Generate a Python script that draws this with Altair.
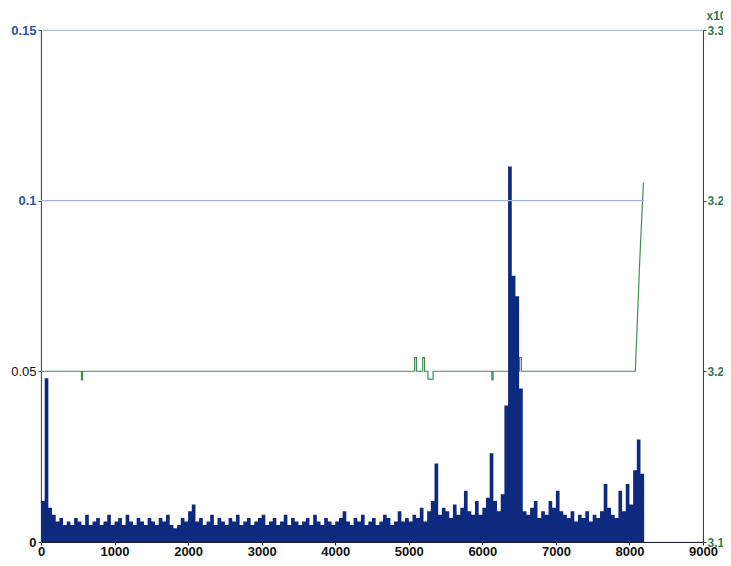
import altair as alt
import pandas as pd

# --- data ---
# blue series: one value (in thousandths) per 50-unit step, x = 0 .. 8150
bar_step = 50
bar_vals_milli = [
    12, 48, 10, 8, 6, 7, 5, 6, 5, 7,
    6, 5, 8, 5, 6, 7, 5, 6, 8, 5,
    6, 7, 5, 8, 6, 5, 7, 6, 5, 7,
    6, 5, 7, 6, 8, 5, 4, 5, 7, 6,
    9, 11, 6, 7, 5, 6, 8, 5, 7, 6,
    5, 7, 6, 8, 5, 6, 7, 5, 6, 7,
    8, 5, 6, 7, 5, 6, 8, 5, 7, 6,
    5, 6, 7, 5, 8, 6, 5, 7, 6, 5,
    6, 7, 9, 6, 5, 7, 6, 8, 5, 6,
    7, 5, 6, 8, 7, 5, 6, 9, 6, 7,
    6, 8, 7, 10, 6, 9, 12, 23, 8, 10,
    9, 7, 11, 8, 10, 15, 9, 8, 12, 8,
    10, 13, 26, 12, 9, 14, 40, 110, 78, 72,
    45, 9, 8, 10, 12, 7, 9, 8, 12, 10,
    15, 9, 8, 7, 9, 6, 8, 7, 9, 6,
    8, 7, 9, 17, 10, 8, 7, 15, 9, 17,
    11, 21, 30, 20,
]
bar_end_x = 8200

# light blue reference line (left axis units)
ref_x = [0, 8200]
ref_y = [0.1, 0.1]

# green series (right axis units)
green_x = [0, 550, 550, 565, 565, 5080, 5080, 5105, 5105, 5190, 5190, 5215, 5215,
           5260, 5260, 5330, 5330, 6130, 6130, 6145, 6145, 6505, 6505, 6530, 6530,
           8080, 8140, 8190]
green_y = [3.1667, 3.1667, 3.1633, 3.1633, 3.1667, 3.1667, 3.172, 3.172, 3.1667,
           3.1667, 3.172, 3.172, 3.1667, 3.1667, 3.1636, 3.1636, 3.1667, 3.1667,
           3.1633, 3.1633, 3.1667, 3.1667, 3.172, 3.172, 3.1667, 3.1667, 3.21, 3.2403]

x_ticks = [0, 1000, 2000, 3000, 4000, 5000, 6000, 7000, 8000, 9000]
left_ticks = [0, 0.05, 0.1, 0.15]
right_ticks = [3.1, 3.1667, 3.2333, 3.3]

# --- tables ---
bx = [i * bar_step for i in range(len(bar_vals_milli))] + [bar_end_x]
bv = [v / 1000 for v in bar_vals_milli] + [bar_vals_milli[-1] / 1000]
bars = pd.DataFrame({"x": bx, "v": bv})
ref = pd.DataFrame({"x": ref_x, "y": ref_y})
green = pd.DataFrame({"x": green_x, "y": green_y, "i": list(range(len(green_x)))})

FONT = "Liberation Sans"
xscale = alt.Scale(domain=[0, 9000], nice=False)
lscale = alt.Scale(domain=[0, 0.15], nice=False, zero=True)

xaxis = alt.Axis(values=x_ticks, format="d", title=None, grid=False, labelFlush=False,
                 labelOverlap=False, labelFont=FONT, labelFontSize=13, labelFontWeight="bold",
                 labelColor="#111111", domainColor="#1a1a3a", tickColor="#1a1a3a",
                 tickSize=3, labelPadding=0)

green_layer = alt.Chart(green).mark_line(color="#3f8f55", strokeWidth=1.2).encode(
    x=alt.X("x:Q", scale=xscale, axis=xaxis),
    y=alt.Y("y:Q", scale=alt.Scale(domain=[3.1, 3.3], nice=False, zero=False),
            axis=alt.Axis(orient="right", values=right_ticks, format=".1f", grid=False,
                          title="x10", titleAngle=0, titleAlign="left", titleX=3, titleY=-11,
                          titleBaseline="alphabetic", titleColor="#2e7d4f", titleFont=FONT,
                          titleFontSize=12, titleFontWeight="bold",
                          labelFont=FONT, labelFontSize=12, labelFontWeight="bold",
                          labelColor="#2e7d4f", domainColor="#3a4848", tickColor="#3a4848",
                          tickSize=3, labelPadding=1)),
    order="i:Q",
)

area_layer = alt.Chart(bars).mark_area(color="#0d2a7e", interpolate="step-after").encode(
    x=alt.X("x:Q", scale=xscale, axis=xaxis),
    y=alt.Y("v:Q", scale=lscale,
            axis=alt.Axis(orient="left", values=left_ticks, format="~g", grid=False, title=None,
                          labelFont=FONT, labelFontSize=13,
                          labelColor={"condition": {"test": "datum.value >= 0.1", "value": "#2a55a5"},
                                      "value": "#111111"},
                          labelFontWeight={"condition": {"test": "datum.value == 0.05", "value": "normal"},
                                           "value": "bold"},
                          domainColor="#3a4a80", tickColor="#3a4a80", tickSize=3, labelPadding=2)),
)

ref_layer = alt.Chart(ref).mark_line(color="#a4b5d8", strokeWidth=1.3).encode(
    x=alt.X("x:Q", scale=xscale),
    y=alt.Y("y:Q", scale=lscale),
)

left = alt.layer(area_layer, ref_layer)
chart = alt.layer(green_layer, left).resolve_scale(y="independent").properties(
    width=662, height=512,
    autosize=alt.AutoSizeParams(type="none"),
    padding={"left": 33, "top": 22, "right": 20, "bottom": 16},
    background="white",
).configure_view(stroke="#b4c0d6", strokeWidth=1.2)

chart.save("out.html", embed_options={"renderer": "svg", "actions": False})
